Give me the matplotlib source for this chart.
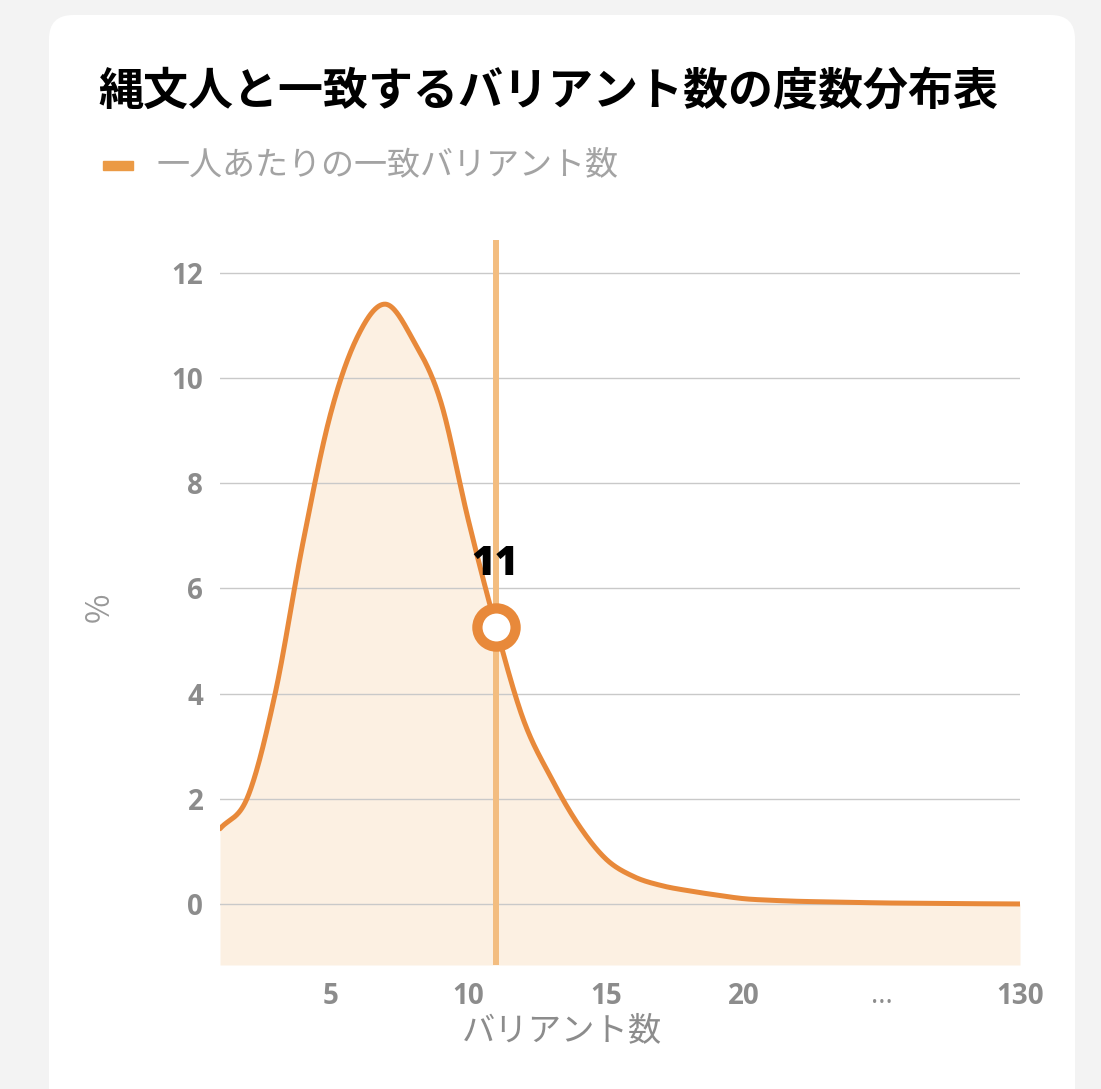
import numpy as np
import matplotlib
matplotlib.use("Agg")
import matplotlib.pyplot as plt
from matplotlib.patches import FancyBboxPatch

plt.rcParams['font.family'] = ['Noto Sans CJK JP', 'DejaVu Sans']

# ---- data ----
title = "縄文人と一致するバリアント数の度数分布表"
series_name = "一人あたりの一致バリアント数"
x_label = "バリアント数"
y_label = "%"
x_index = list(range(1, 31))
values = [1.43, 2.03, 4.0, 6.85, 9.3, 10.8, 11.4, 10.72, 9.55, 7.3,
          5.27, 3.5, 2.4, 1.5, 0.85, 0.52, 0.35, 0.25, 0.17, 0.1,
          0.07, 0.05, 0.04, 0.03, 0.02, 0.015, 0.01, 0.006, 0.003, 0.0]
x_tick_pos = [5, 10, 15, 20, 25, 30]
x_tick_labels = ["5", "10", "15", "20", "...", "130"]
y_ticks = [0, 2, 4, 6, 8, 10, 12]
highlight_index = 11
highlight_label = "11"

# ---- colours ----
LINE = "#e8893a"
FILL = "#fcf0e2"
VLINE = "#f3bd80"
GRID = "#c9c9c9"
TICK = "#8c8c8c"
NUMFONT = ["Open Sans", "DejaVu Sans"]


def catmull_rom(x, y, xs):
    x = np.asarray(x, float); y = np.asarray(y, float)
    h = np.diff(x); d = np.diff(y) / h
    m = np.empty_like(y)
    m[1:-1] = (y[2:] - y[:-2]) / (x[2:] - x[:-2])
    m[0] = d[0]; m[-1] = d[-1]
    idx = np.clip(np.searchsorted(x, xs) - 1, 0, len(x) - 2)
    t = (xs - x[idx]) / h[idx]
    h00 = 2 * t**3 - 3 * t**2 + 1; h10 = t**3 - 2 * t**2 + t
    h01 = -2 * t**3 + 3 * t**2; h11 = t**3 - t**2
    out = h00 * y[idx] + h10 * h[idx] * m[idx] + h01 * y[idx + 1] + h11 * h[idx] * m[idx + 1]
    return np.maximum(out, 0)


W, H = 1101, 1089
fig = plt.figure(figsize=(W / 100, H / 100), dpi=100)
fig.patch.set_facecolor("#f3f3f3")

card = FancyBboxPatch((49 / W, -0.05), (1075 - 49) / W, (1089 - 15) / H + 0.05,
                      boxstyle="round,pad=0,rounding_size=0.022",
                      transform=fig.transFigure, facecolor="white",
                      edgecolor="none", zorder=-10)
fig.patches.append(card)

ax = fig.add_axes([220 / W, (H - 965) / H, (1020 - 220) / W, (965 - 240) / H])
ax.set_zorder(1)
ax.set_facecolor("none")
ymin, ymax = -1.16, 12.62
ax.set_xlim(1, 30)
ax.set_ylim(ymin, ymax)

xs = np.linspace(1, 30, 1500)
ys = catmull_rom(x_index, values, xs)
ax.fill_between(xs, ys, ymin, color=FILL, lw=0, zorder=1)
for yt in y_ticks:
    ax.axhline(yt, color=GRID, lw=1.0, zorder=2)
ax.plot(xs, ys, color=LINE, lw=3.6, solid_capstyle="round", zorder=3)
ax.axvline(highlight_index, color=VLINE, lw=4.3, zorder=4)
hv = values[x_index.index(highlight_index)]
ax.plot([highlight_index], [hv], marker="o", ms=27.5, mfc="white",
        mec=LINE, mew=7.4, zorder=5)
ax.annotate(highlight_label, (highlight_index, hv), xytext=(-1, 62),
            textcoords="offset pixels", ha="center", va="center",
            fontsize=29, fontweight="heavy", family=NUMFONT,
            color="black", zorder=6)

for s in ax.spines.values():
    s.set_visible(False)
ax.set_yticks(y_ticks)
ax.set_yticklabels([str(v) for v in y_ticks])
ax.set_xticks(x_tick_pos)
ax.set_xticklabels(x_tick_labels)
ax.tick_params(axis="both", length=0, colors=TICK, labelsize=20)
ax.tick_params(axis="y", pad=12)
ax.tick_params(axis="x", pad=12)
for lab in ax.get_xticklabels() + ax.get_yticklabels():
    lab.set_fontweight("bold")
    lab.set_family(NUMFONT)
dots = ax.get_xticklabels()[4]
dots.set_fontweight("normal")

fig.text(562 / W, 1 - 1031 / H, x_label, ha="center", va="center",
         fontsize=24, color=TICK)
fig.text(100 / W, 1 - 607 / H, y_label, ha="center", va="center",
         fontsize=23, color="#999999", rotation=90)

fig.text(98 / W, 1 - 92 / H, title, ha="left", va="center",
         fontsize=32.4, fontweight="bold", color="black")
fig.patches.append(plt.Rectangle((103 / W, 1 - 170 / H), 30 / W, 9 / H,
                                 transform=fig.transFigure, color="#eb9a45"))
fig.text(157 / W, 1 - 165 / H, series_name, ha="left", va="center",
         fontsize=23.8, color="#a3a3a3")

fig.savefig("out.png", dpi=100, facecolor=fig.get_facecolor())
